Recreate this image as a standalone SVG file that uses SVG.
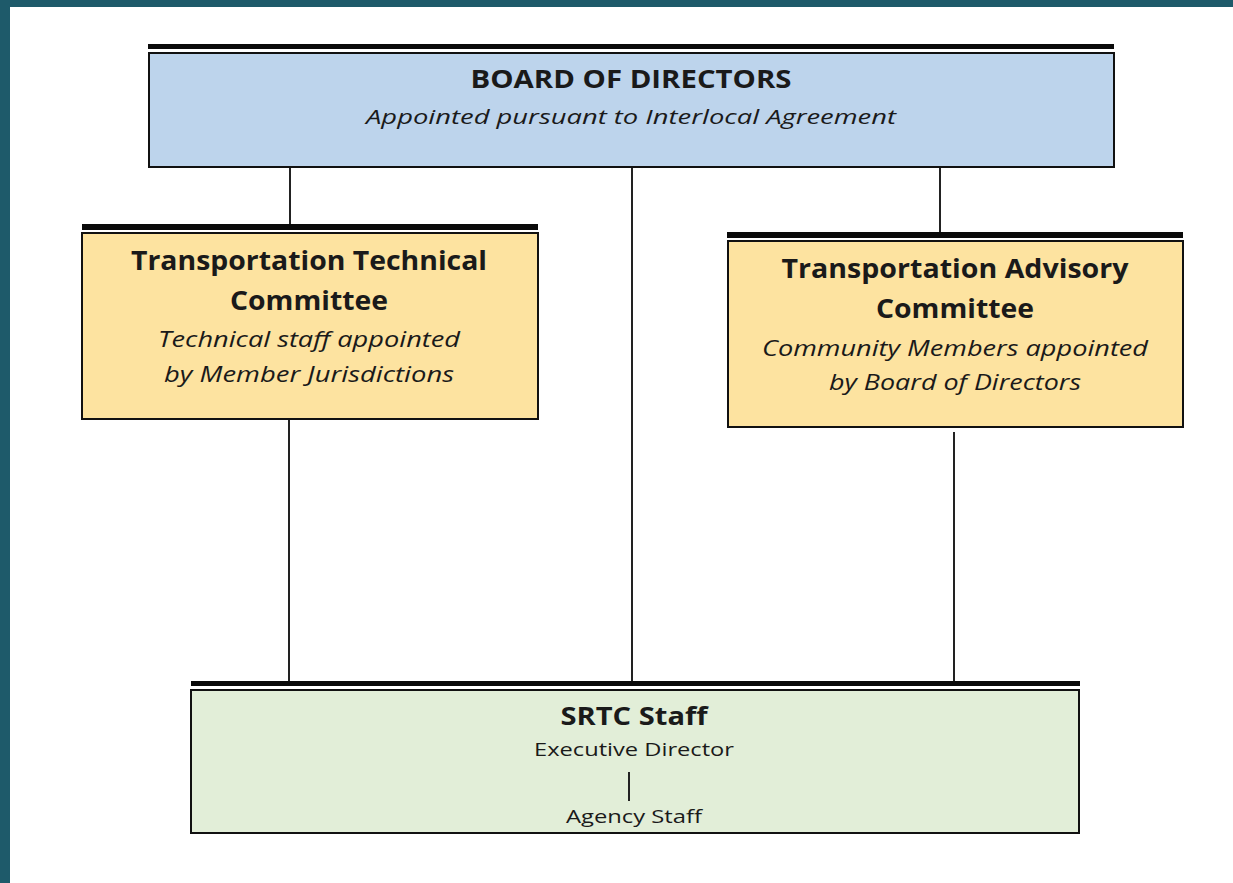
<svg xmlns="http://www.w3.org/2000/svg" width="1233" height="883" viewBox="0 0 1233 883">
<style>
.frame{fill:#1e5a6a}
.box{stroke:#111;stroke-width:2}
.bar{fill:#0a0a0a}
.conn{stroke:#222;stroke-width:2;fill:none}
text{font-family:"Open Sans","Liberation Sans",sans-serif;fill:#1a1a1a;text-anchor:middle}
.t{font-weight:bold}
.i{font-style:italic}
</style>
<rect x="0" y="0" width="1233" height="883" fill="#fff"/>
<rect class="frame" x="0" y="0" width="1233" height="7"/>
<rect class="frame" x="0" y="0" width="10" height="883"/>
<g id="connectors">
<line class="conn" x1="290" y1="167" x2="290" y2="225"/>
<line class="conn" x1="632" y1="167" x2="632" y2="682"/>
<line class="conn" x1="940" y1="167" x2="940" y2="233"/>
<line class="conn" x1="289" y1="419" x2="289" y2="682"/>
<line class="conn" x1="954" y1="432" x2="954" y2="682"/>
</g>
<g id="board">
<rect class="bar" x="148" y="44" width="966" height="5"/>
<rect class="box" x="149" y="53" width="965" height="114" fill="#bdd4ec"/>
<text class="t" x="631" y="88" font-size="25" textLength="321" lengthAdjust="spacingAndGlyphs">BOARD OF DIRECTORS</text>
<text class="i" x="631" y="124" font-size="20" textLength="530" lengthAdjust="spacingAndGlyphs">Appointed pursuant to Interlocal Agreement</text>
</g>
<g id="ttc">
<rect class="bar" x="82" y="224" width="456" height="6"/>
<rect class="box" x="82" y="233" width="456" height="186" fill="#fde3a0"/>
<text class="t" x="309" y="270" font-size="27" textLength="356" lengthAdjust="spacingAndGlyphs">Transportation Technical</text>
<text class="t" x="309" y="310" font-size="27" textLength="158" lengthAdjust="spacingAndGlyphs">Committee</text>
<text class="i" x="309" y="347" font-size="21" textLength="302" lengthAdjust="spacingAndGlyphs">Technical staff appointed</text>
<text class="i" x="309" y="382" font-size="21" textLength="290" lengthAdjust="spacingAndGlyphs">by Member Jurisdictions</text>
</g>
<g id="tac">
<rect class="bar" x="727" y="232" width="456" height="6"/>
<rect class="box" x="728" y="241" width="455" height="186" fill="#fde3a0"/>
<text class="t" x="955" y="278" font-size="27" textLength="347" lengthAdjust="spacingAndGlyphs">Transportation Advisory</text>
<text class="t" x="955" y="318" font-size="27" textLength="158" lengthAdjust="spacingAndGlyphs">Committee</text>
<text class="i" x="955" y="356" font-size="21" textLength="386" lengthAdjust="spacingAndGlyphs">Community Members appointed</text>
<text class="i" x="955" y="390" font-size="21" textLength="252" lengthAdjust="spacingAndGlyphs">by Board of Directors</text>
</g>
<g id="srtc">
<rect class="bar" x="191" y="681" width="889" height="5"/>
<rect class="box" x="191" y="690" width="888" height="143" fill="#e2eed8"/>
<text class="t" x="634" y="725" font-size="25" textLength="147" lengthAdjust="spacingAndGlyphs">SRTC Staff</text>
<text x="634" y="756" font-size="19" textLength="200" lengthAdjust="spacingAndGlyphs">Executive Director</text>
<line class="conn" x1="629" y1="772" x2="629" y2="801"/>
<text x="634" y="823" font-size="19" textLength="136" lengthAdjust="spacingAndGlyphs">Agency Staff</text>
</g>
</svg>
